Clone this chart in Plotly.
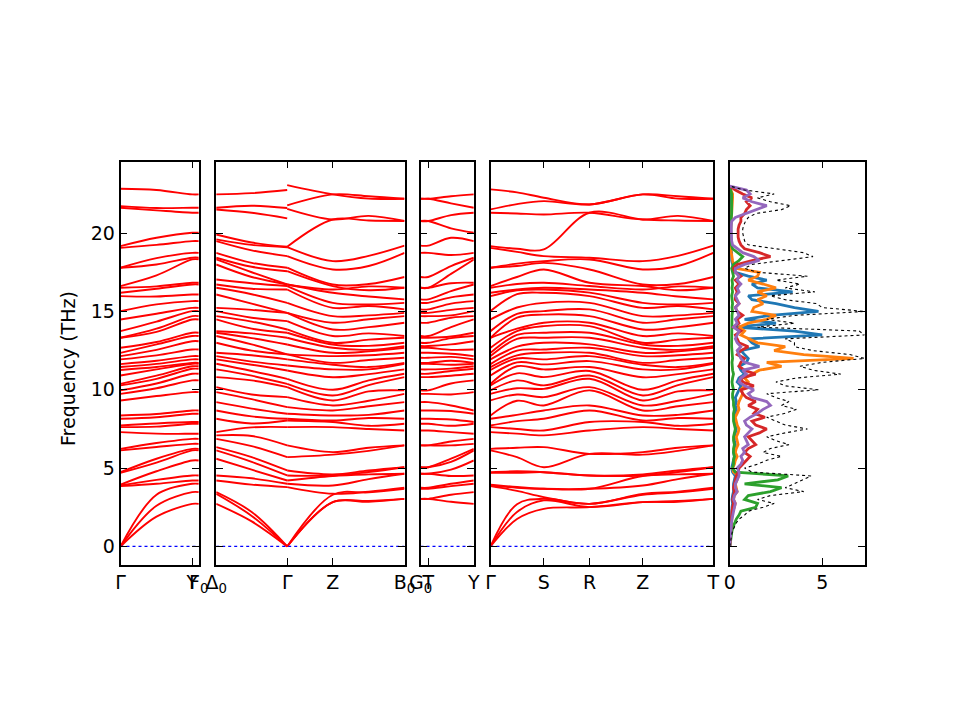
import plotly.graph_objects as go

# phonon frequencies (THz) at the q-points of the path, 44 branches each, high -> low
freq_G = [22.83, 21.72, 21.62, 19.17, 19.06, 17.79, 17.79, 16.62, 16.51, 16.19, 15.98, 15.02, 14.49, 13.74, 13.32,
          13.32, 12.68, 12.36, 12.15, 11.94, 11.64, 11.45, 11.26, 10.91, 10.38, 10.28, 9.96, 9.74, 9.32, 8.36,
          8.15, 7.72, 7.62, 7.3, 6.23, 6.13, 4.74, 4.7, 3.95, 3.89, 3.85, 0.0, 0.0, 0.0]
mid_GY = [22.75, 21.6, 21.45, 19.7, 19.25, 18.4, 18.0, 17.3, 16.6, 16.45, 15.95, 15.45, 14.85, 14.35, 13.9,
          13.7, 13.05, 12.9, 12.55, 12.2, 11.85, 11.65, 11.45, 11.3, 10.9, 10.7, 10.4, 10.1, 9.6, 8.45,
          8.25, 7.85, 7.65, 7.2, 6.6, 6.35, 5.6, 5.35, 4.8, 4.25, 4.0, 3.3, 2.6, 1.9]
freq_Y = [22.47, 21.62, 21.3, 20.02, 19.49, 18.74, 18.43, 18.32, 16.83, 16.72, 16.08, 15.66, 15.23, 15.02, 14.7,
          14.49, 13.64, 13.43, 13.1, 12.57, 12.15, 11.94, 11.72, 11.66, 11.5, 11.34, 11.02, 10.6, 9.85, 8.68,
          8.47, 7.94, 7.83, 7.19, 6.87, 6.55, 6.23, 6.13, 5.49, 4.53, 4.21, 4.0, 3.47, 2.72]
freq_D = [22.47, 21.62, 21.51, 19.91, 19.6, 19.49, 18.74, 18.43, 18.32, 18.0, 17.04, 16.72, 16.51, 16.08, 15.23,
          15.02, 14.7, 14.49, 13.74, 13.64, 13.43, 13.0, 12.36, 12.15, 11.94, 11.66, 11.3, 10.81, 10.17, 9.85,
          9.21, 8.68, 8.15, 7.3, 7.09, 6.87, 6.34, 6.13, 5.6, 4.53, 4.21, 3.47, 3.36, 2.72]
mid_DG = [22.55, 21.75, 21.3, 19.4, 19.25, 18.9, 18.1, 17.85, 17.5, 17.2, 16.8, 16.45, 16.1, 15.5, 15.1,
          14.6, 14.35, 13.9, 13.6, 13.3, 12.9, 12.5, 12.2, 11.8, 11.6, 11.2, 10.9, 10.6, 9.7, 9.4,
          8.8, 8.3, 7.85, 7.6, 7.05, 6.4, 5.7, 5.4, 4.9, 4.35, 3.95, 2.2, 1.95, 1.6]
freq_Gx = [22.75, 21.6, 20.94, 19.13, 19.1, 18.53, 17.79, 17.57, 16.72, 16.72, 16.62, 16.4, 15.55, 14.91, 14.91,
           14.38, 13.85, 13.64, 13.32, 12.89, 12.26, 12.26, 11.94, 11.55, 11.23, 10.7, 10.38, 10.17, 9.53, 8.89,
           8.47, 8.15, 8.04, 7.62, 6.45, 5.7, 4.85, 4.53, 4.21, 4.0, 3.79, 0.0, 0.0, 0.0]
# LO-TO split tops of Gamma seen from the Z and S directions
freq_Gz = [23.06, 21.77, 21.55] + freq_Gx[3:]
freq_G4 = [22.79, 21.51, 21.3] + freq_G[3:]
freq_Z = [22.47, 22.47, 20.87, 20.87, 18.21, 17.68, 16.72, 16.62, 16.4, 16.19, 15.55, 15.23, 14.7, 14.28, 13.85,
          13.43, 13.0, 12.89, 12.68, 12.36, 12.15, 11.72, 11.6, 11.3, 10.8, 10.0, 9.64, 9.32, 9.0, 8.68,
          8.36, 8.04, 7.94, 7.62, 6.02, 5.86, 4.6, 4.53, 4.5, 3.89, 3.36, 3.3, 2.83, 2.83]
mid_ZT = [22.2, 22.35, 21.1, 20.8, 18.55, 17.9, 16.75, 16.35, 16.6, 15.95, 15.45, 15.35, 14.75, 14.5, 14.0,
          13.6, 13.2, 12.8, 12.55, 12.45, 12.2, 11.9, 11.45, 11.3, 11.0, 10.6, 10.3, 9.9, 9.3, 8.95,
          8.4, 8.2, 7.7, 7.5, 6.3, 6.1, 4.85, 4.75, 4.6, 4.3, 3.5, 3.45, 2.9, 2.85]
freq_T = [22.19, 22.19, 20.77, 20.77, 19.2, 18.74, 17.2, 16.51, 16.51, 15.77, 15.55, 15.13, 14.91, 14.7, 14.28,
          13.43, 13.32, 13.0, 12.79, 12.68, 12.36, 12.04, 11.72, 11.66, 11.3, 11.02, 10.81, 9.96, 9.74, 9.21,
          8.68, 8.15, 7.83, 7.4, 6.45, 6.45, 5.06, 5.06, 4.64, 4.64, 3.75, 3.68, 3.04, 3.04]
mid_TY = [22.35, 21.9, 21.15, 20.3, 19.7, 18.6, 17.9, 17.4, 16.8, 16.3, 15.9, 15.5, 15.1, 14.75, 14.6,
          14.0, 13.4, 13.3, 12.9, 12.55, 12.3, 12.1, 11.85, 11.6, 11.35, 11.2, 10.9, 10.4, 9.7, 9.0,
          8.65, 8.1, 7.7, 7.3, 6.7, 6.45, 5.6, 5.4, 4.9, 4.5, 4.0, 3.85, 3.3, 2.85]
mid_GS = [22.6, 21.85, 21.25, 19.0, 18.8, 18.05, 17.9, 17.2, 16.75, 16.4, 16.35, 16.1, 15.25, 14.85, 14.6,
          13.9, 13.75, 13.5, 13.25, 12.75, 12.5, 12.2, 12.0, 11.75, 11.5, 11.05, 10.6, 10.1, 9.7, 9.3,
          8.4, 8.0, 7.5, 7.2, 6.3, 5.7, 4.8, 4.7, 3.8, 3.75, 3.55, 2.7, 2.2, 1.75]
freq_S = [22.26, 22.04, 21.19, 18.96, 18.53, 18.21, 18.1, 17.68, 16.83, 16.51, 16.4, 16.19, 15.55, 15.02, 14.8,
          14.28, 14.06, 13.64, 13.32, 13.0, 12.57, 12.36, 11.94, 11.62, 11.3, 10.81, 10.28, 10.06, 9.53, 9.0,
          8.68, 8.15, 7.4, 7.09, 6.34, 5.06, 4.74, 4.74, 3.68, 3.68, 3.15, 3.04, 2.94, 2.4]
freq_R = [21.83, 21.83, 21.3, 21.3, 18.43, 18.32, 17.68, 16.83, 16.62, 16.4, 16.2, 15.98, 15.55, 15.13, 14.7,
          14.28, 14.06, 13.64, 13.32, 12.9, 12.68, 12.36, 12.15, 11.83, 11.45, 11.2, 10.91, 10.7, 10.17, 9.96,
          9.0, 8.68, 7.94, 7.4, 5.91, 5.91, 4.53, 4.53, 3.68, 3.68, 2.72, 2.72, 2.51, 2.51]

# density of states, sampled every 0.25 THz
dos_freq = [0.0, 0.25, 0.5, 0.75, 1.0, 1.25, 1.5, 1.75, 2.0, 2.25,
            2.5, 2.75, 3.0, 3.25, 3.5, 3.75, 4.0, 4.25, 4.5, 4.75,
            5.0, 5.25, 5.5, 5.75, 6.0, 6.25, 6.5, 6.75, 7.0, 7.25,
            7.5, 7.75, 8.0, 8.25, 8.5, 8.75, 9.0, 9.25, 9.5, 9.75,
            10.0, 10.25, 10.5, 10.75, 11.0, 11.25, 11.5, 11.75, 12.0, 12.25,
            12.5, 12.75, 13.0, 13.25, 13.5, 13.75, 14.0, 14.25, 14.5, 14.75,
            15.0, 15.25, 15.5, 15.75, 16.0, 16.25, 16.5, 16.75, 17.0, 17.25,
            17.5, 17.75, 18.0, 18.25, 18.5, 18.75, 19.0, 19.25, 19.5, 19.75,
            20.0, 20.25, 20.5, 20.75, 21.0, 21.25, 21.5, 21.75, 22.0, 22.25,
            22.5, 22.75, 23.0]
dos_total = [0.0, 0.02, 0.05, 0.1, 0.15, 0.25, 0.35, 0.5, 0.8, 1.0,
             1.8, 2.4, 1.5, 2.2, 4.0, 3.0, 3.5, 4.0, 4.4, 1.2,
             0.8, 1.5, 2.0, 2.8, 1.8, 2.2, 3.2, 2.5, 2.0, 3.0,
             4.2, 3.0, 2.5, 2.0, 3.0, 3.6, 2.8, 3.2, 2.5, 2.0,
             4.8, 3.0, 2.5, 3.6, 6.0, 4.5, 3.8, 5.0, 7.3, 6.5,
             4.5, 3.5, 3.5, 3.0, 7.3, 7.0, 1.5, 3.5, 2.0, 3.5,
             7.3, 5.0, 4.7, 3.0, 2.2, 4.6, 3.0, 3.8, 2.5, 4.2,
             1.5, 0.8, 1.2, 3.0, 4.5, 4.0, 2.5, 1.0, 0.8, 0.75,
             0.7, 0.7, 0.75, 0.85, 1.0, 1.4, 2.8, 3.3, 2.2, 1.5,
             2.4, 0.8, 0.0]
dos_p1 = [0.0, 0.01, 0.02, 0.03, 0.04, 0.05, 0.06, 0.07, 0.08, 0.1,
          0.12, 0.15, 0.12, 0.15, 0.2, 0.2, 0.2, 0.25, 0.3, 0.15,
          0.1, 0.15, 0.2, 0.25, 0.2, 0.25, 0.3, 0.25, 0.25, 0.3,
          0.35, 0.3, 0.3, 0.25, 0.3, 0.35, 0.3, 0.35, 0.3, 0.4,
          0.5, 0.6, 0.4, 0.5, 0.8, 0.6, 0.5, 0.9, 1.0, 0.8,
          0.6, 1.6, 1.2, 1.0, 5.0, 3.5, 0.3, 2.5, 0.8, 2.2,
          4.8, 3.5, 2.5, 1.2, 1.0, 3.4, 1.5, 1.2, 2.0, 1.0,
          0.3, 0.2, 0.15, 0.1, 0.1, 0.1, 0.05, 0.04, 0.04, 0.04,
          0.04, 0.04, 0.04, 0.05, 0.05, 0.06, 0.06, 0.06, 0.06, 0.05,
          0.05, 0.03, 0.0]
dos_p2 = [0.0, 0.01, 0.02, 0.04, 0.05, 0.07, 0.09, 0.11, 0.14, 0.16,
          0.25, 0.3, 0.2, 0.25, 0.4, 0.35, 0.3, 0.4, 0.45, 0.2,
          0.15, 0.25, 0.3, 0.4, 0.3, 0.35, 0.45, 0.4, 0.35, 0.45,
          0.5, 0.4, 0.35, 0.3, 0.4, 0.5, 0.45, 0.5, 0.6, 0.7,
          0.6, 0.8, 1.0, 0.8, 1.2, 1.6, 2.8, 2.0, 6.7, 4.0,
          2.4, 3.0, 1.5, 1.0, 0.6, 0.8, 0.5, 1.0, 2.0, 2.5,
          1.2, 1.3, 1.8, 1.5, 2.0, 1.5, 2.5, 1.8, 1.0, 1.5,
          1.6, 0.3, 0.2, 0.15, 0.1, 0.08, 0.06, 0.05, 0.05, 0.05,
          0.05, 0.05, 0.05, 0.06, 0.08, 0.1, 0.12, 0.12, 0.12, 0.15,
          0.15, 0.05, 0.0]
dos_p3 = [0.0, 0.02, 0.04, 0.08, 0.12, 0.18, 0.28, 0.35, 0.5, 0.6,
          1.4, 1.5, 0.8, 1.0, 2.2, 2.8, 0.8, 2.6, 3.16, 0.3,
          0.15, 0.2, 0.2, 0.25, 0.2, 0.2, 0.25, 0.2, 0.2, 0.25,
          0.3, 0.25, 0.2, 0.2, 0.2, 0.25, 0.2, 0.2, 0.15, 0.15,
          0.2, 0.15, 0.12, 0.15, 0.2, 0.15, 0.12, 0.12, 0.15, 0.12,
          0.1, 0.1, 0.1, 0.1, 0.12, 0.12, 0.08, 0.1, 0.1, 0.12,
          0.15, 0.12, 0.15, 0.12, 0.1, 0.15, 0.12, 0.15, 0.12, 0.2,
          0.15, 0.1, 0.2, 0.5, 0.7, 0.4, 0.15, 0.08, 0.06, 0.05,
          0.05, 0.05, 0.05, 0.06, 0.08, 0.1, 0.1, 0.1, 0.1, 0.1,
          0.1, 0.05, 0.0]
dos_p4 = [0.0, 0.01, 0.02, 0.03, 0.04, 0.05, 0.06, 0.08, 0.1, 0.12,
          0.15, 0.2, 0.15, 0.18, 0.25, 0.2, 0.25, 0.3, 0.35, 0.45,
          0.5, 0.7, 0.9, 1.1, 0.8, 1.0, 1.4, 1.2, 1.0, 1.6,
          2.0, 1.4, 1.2, 1.9, 1.3, 1.5, 1.0, 1.4, 0.9, 0.7,
          0.6, 1.3, 0.7, 0.6, 1.4, 0.8, 0.5, 0.6, 0.8, 0.4,
          0.6, 1.0, 0.5, 0.4, 0.3, 0.6, 0.2, 0.5, 0.4, 0.7,
          0.4, 0.3, 0.5, 0.3, 0.3, 0.4, 0.3, 0.5, 0.3, 0.6,
          0.3, 0.2, 0.4, 1.2, 2.2, 1.6, 0.8, 0.6, 0.5, 0.45,
          0.45, 0.45, 0.5, 0.6, 0.6, 0.8, 0.9, 1.1, 0.9, 1.2,
          0.7, 0.3, 0.0]
dos_p5 = [0.0, 0.01, 0.02, 0.04, 0.05, 0.07, 0.09, 0.12, 0.15, 0.18,
          0.25, 0.3, 0.2, 0.25, 0.4, 0.3, 0.3, 0.4, 0.5, 0.5,
          0.4, 0.6, 0.7, 0.6, 0.8, 0.7, 1.0, 0.9, 0.8, 1.0,
          1.2, 0.9, 0.8, 1.1, 1.5, 1.8, 2.2, 2.0, 1.2, 1.0,
          1.3, 0.8, 0.5, 0.6, 0.9, 0.7, 1.6, 0.8, 0.6, 0.5,
          0.4, 0.6, 0.4, 0.3, 0.4, 0.5, 0.2, 0.4, 0.3, 0.5,
          0.4, 0.3, 0.5, 0.4, 0.3, 0.5, 0.4, 0.6, 0.4, 0.5,
          0.3, 0.3, 0.8, 1.6, 1.3, 0.7, 0.4, 0.15, 0.1, 0.08,
          0.08, 0.08, 0.08, 0.1, 0.3, 0.9, 1.5, 2.0, 1.2, 0.7,
          1.1, 0.9, 0.0]

# path segments: (distance along path, frequencies) and labelled points
panels = [
    dict(px=(120, 198.3),
         segs=[[(0.0, freq_G), (0.36, mid_GY), (0.717, freq_Y), (0.783, freq_Y)]],
         ticks=[0.0, 0.717, 0.783], labels=["Γ", "Y", "F<sub>0</sub>"]),
    dict(px=(215.7, 404),
         segs=[[(0.0, freq_D), (0.355, mid_DG), (0.71, freq_Gx)],
               [(0.71, freq_Gz), (1.166, freq_Z), (1.525, mid_ZT), (1.883, freq_T)]],
         ticks=[0.0, 0.71, 1.166, 1.883], labels=["Δ<sub>0</sub>", "Γ", "Z", "B<sub>0</sub>"]),
    dict(px=(420, 473.3),
         segs=[[(0.0, freq_T), (0.077, freq_T), (0.305, mid_TY), (0.533, freq_Y)]],
         ticks=[0.0, 0.077, 0.533], labels=["G<sub>0</sub>", "T", "Y"]),
    dict(px=(490, 712.7),
         segs=[[(0.0, freq_G4), (0.265, mid_GS), (0.533, freq_S), (0.99, freq_R),
                (1.523, freq_Z), (1.875, mid_ZT), (2.227, freq_T)]],
         ticks=[0.0, 0.533, 0.99, 1.523, 2.227], labels=["Γ", "S", "R", "Z", "T"]),
]

W, H = 960, 720
OFF = 7.5  # the page body sits a few pixels in from the window corner
YR = [-1.17, 24.57]
YDOM = [1 - (564.3 - OFF) / H, 1 - (161 - OFF) / H]
FONT = dict(family="DejaVu Sans", size=19, color="black")


def xdom(a, b):
    return [(a - OFF) / W, (b - OFF) / W]


fig = go.Figure()
layout = dict(width=W, height=H, autosize=False, margin=dict(l=0, r=0, t=0, b=0, pad=0),
              paper_bgcolor="white", plot_bgcolor="white", showlegend=False, font=FONT)

axis_common = dict(showline=True, linecolor="black", linewidth=1.5, mirror="allticks",
                   ticks="inside", ticklen=7, tickwidth=1.2, tickcolor="black", tickangle=0,
                   showgrid=False, zeroline=False, tickfont=FONT, automargin=False)

for i, p in enumerate(panels):
    n = i + 1
    xa, ya = ("x", "y") if n == 1 else ("x%d" % n, "y%d" % n)
    width = (p["px"][1] - p["px"][0]) / 100.0
    for seg in p["segs"]:
        xs, ys = [], []
        for b in range(len(seg[0][1])):
            for x, f in seg:
                xs.append(x)
                ys.append(f[b])
            xs.append(None)
            ys.append(None)
        fig.add_trace(go.Scatter(x=xs, y=ys, mode="lines", xaxis=xa, yaxis=ya, hoverinfo="skip",
                                 line=dict(color="red", width=1.9, shape="spline")))
    fig.add_trace(go.Scatter(x=[0, width], y=[0, 0], mode="lines", xaxis=xa, yaxis=ya, hoverinfo="skip",
                             line=dict(color="blue", width=1.2, dash="dot")))
    layout["xaxis" if n == 1 else "xaxis%d" % n] = dict(
        axis_common, domain=xdom(*p["px"]), range=[0, width],
        tickmode="array", tickvals=p["ticks"], ticktext=p["labels"], anchor=ya)
    layout["yaxis" if n == 1 else "yaxis%d" % n] = dict(
        axis_common, domain=YDOM, range=YR, tickmode="array", tickvals=[0, 5, 10, 15, 20],
        showticklabels=(n == 1), anchor=xa)

# DOS panel
dos_colors = ["#1f77b4", "#ff7f0e", "#2ca02c", "#d62728", "#9467bd"]
for d, c in zip([dos_p1, dos_p2, dos_p3, dos_p4, dos_p5], dos_colors):
    fig.add_trace(go.Scatter(x=d, y=dos_freq, mode="lines", xaxis="x5", yaxis="y5", hoverinfo="skip",
                             line=dict(color=c, width=2.8)))
fig.add_trace(go.Scatter(x=dos_total, y=dos_freq, mode="lines", xaxis="x5", yaxis="y5", hoverinfo="skip",
                         line=dict(color="black", width=1.1, dash="dot")))
layout["xaxis5"] = dict(axis_common, domain=xdom(729.3, 864), range=[0, 7.29],
                        tickmode="array", tickvals=[0, 5], anchor="y5")
layout["yaxis5"] = dict(axis_common, domain=YDOM, range=YR, tickmode="array",
                        tickvals=[0, 5, 10, 15, 20], showticklabels=False, anchor="x5")

layout["annotations"] = [dict(text="Frequency (THz)", xref="paper", yref="paper",
                              x=(67 - OFF) / W, y=1 - (368 - OFF) / H,
                              textangle=-90, showarrow=False, font=FONT, xanchor="center", yanchor="middle")]

fig.update_layout(**layout)
fig.write_html("out.html")
